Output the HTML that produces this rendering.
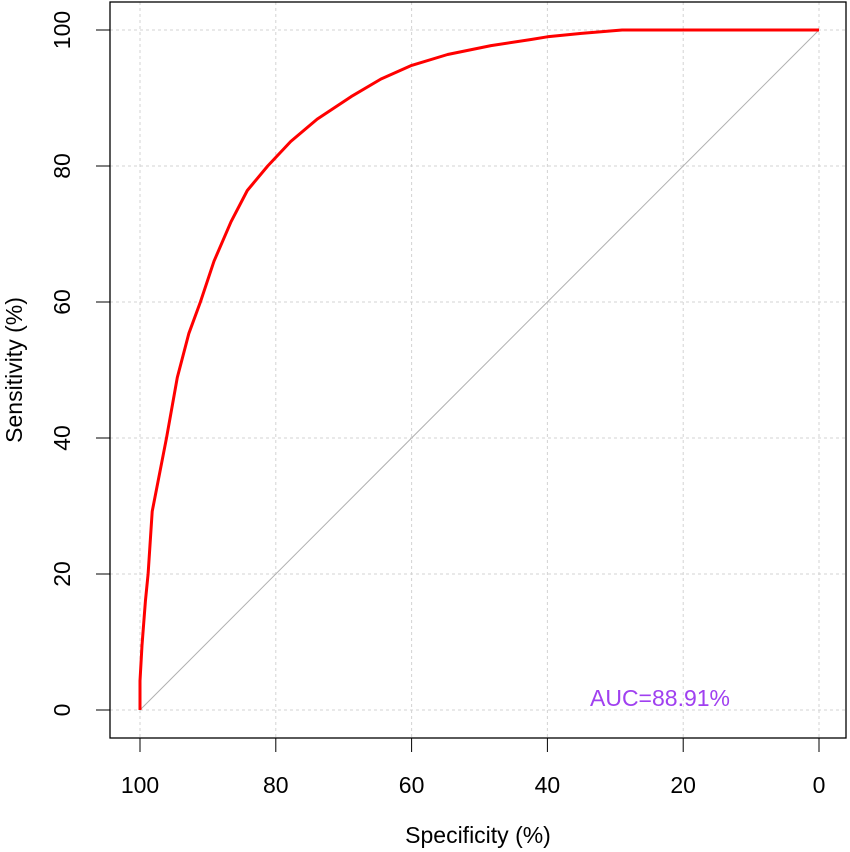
<!DOCTYPE html>
<html><head><meta charset="utf-8"><style>
html,body{margin:0;padding:0;background:#fff;}
svg{display:block;font-family:"Liberation Sans",Arial,sans-serif;}
</style></head><body>
<svg id="chart" width="850" height="852"></svg>
<script>
const specData = [100, 100, 99.7, 99.2, 98.8, 98.2, 96.1, 94.5, 92.8, 91.1, 89.1, 86.6, 84.2, 81.2, 77.8, 73.9, 68.9, 64.5, 60.0, 54.7, 48.3, 42.4, 40.0, 35.0, 29.0, 20.0, 10.0, 0];
const sensData = [0, 4.3, 9.5, 16, 20, 29.2, 40, 48.9, 55.4, 60, 66, 71.8, 76.4, 80, 83.6, 86.9, 90.2, 92.8, 94.8, 96.4, 97.7, 98.6, 99.0, 99.5, 100, 100, 100, 100];
const xTicks = [100, 80, 60, 40, 20, 0];
const yTicks = [0, 20, 40, 60, 80, 100];
const aucLabel = "AUC=88.91%";

const NS = "http://www.w3.org/2000/svg";
const svg = document.getElementById("chart");
const X = v => 140 + (100 - v) * 6.79;
const Y = v => 710 - v * 6.8;
function mk(tag, attrs, parent) {
  const e = document.createElementNS(NS, tag);
  for (const k in attrs) e.setAttribute(k, attrs[k]);
  (parent || svg).appendChild(e);
  return e;
}
xTicks.forEach(t => {
  const l = mk("line", {x1: X(t), x2: X(t), y1: 2, y2: 738, stroke: "#d3d3d3", "stroke-dasharray": "3,3"});
  
  
});
yTicks.forEach(t => {
  const l = mk("line", {x1: 110, x2: 846, y1: Y(t), y2: Y(t), stroke: "#d3d3d3", "stroke-dasharray": "3,3"});
  
  
});
const diag = mk("line", {x1: X(100), y1: Y(0), x2: X(0), y2: Y(100), stroke: "#b0b0b0", "stroke-width": 1});


const box = mk("rect", {x: 110, y: 2, width: 736, height: 736, fill: "none", stroke: "#000", "stroke-width": 1.3});


xTicks.forEach(t => {
  const l = mk("line", {x1: X(t), x2: X(t), y1: 738, y2: 752, stroke: "#000"});
  
  
  const tx = mk("text", {x: X(t), y: 793, "text-anchor": "middle", "font-size": 23, fill: "#000"});
  tx.textContent = t;
  
  
});
yTicks.forEach(t => {
  const l = mk("line", {x1: 96, x2: 110, y1: Y(t), y2: Y(t), stroke: "#000"});
  
  
  const tx = mk("text", {x: 70, y: Y(t), "text-anchor": "middle", "font-size": 23, fill: "#000", transform: `rotate(-90 70 ${Y(t)})`});
  tx.textContent = t;
  
  
});
const xt = mk("text", {x: 478, y: 843, "text-anchor": "middle", "font-size": 23});
xt.textContent = "Specificity (%)";


const yt = mk("text", {x: 22, y: 370, "text-anchor": "middle", "font-size": 23, transform: "rotate(-90 22 370)"});
yt.textContent = "Sensitivity (%)";


let d = "";
specData.forEach((s, i) => { d += (i ? "L" : "M") + X(s).toFixed(1) + "," + Y(sensData[i]).toFixed(1); });
const curve = mk("path", {d: d, fill: "none", stroke: "#ff0000", "stroke-width": 3, "stroke-linejoin": "round"});


const auc = mk("text", {x: 660, y: 706, "text-anchor": "middle", "font-size": 23, fill: "#a040f0"});
auc.textContent = aucLabel;


</script>
</body></html>
